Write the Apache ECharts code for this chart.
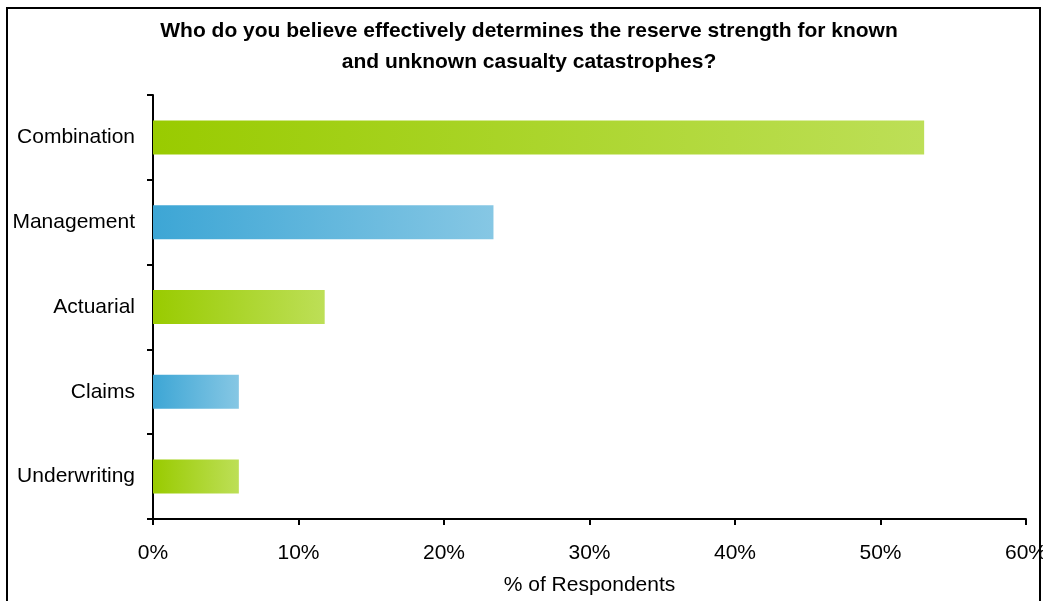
<!DOCTYPE html>
<html><head><meta charset="utf-8">
<script src="https://cdn.jsdelivr.net/npm/echarts@6/dist/echarts.min.js"></script>
<style>html,body{margin:0;padding:0;background:#fff;}#c{width:1043px;height:601px;}</style>
</head><body><div id="c"></div>
<script>
const categories = ['Combination', 'Management', 'Actuarial', 'Claims', 'Underwriting'];
const values = [53, 23.4, 11.8, 5.9, 5.9];
const barKinds = ['green', 'blue', 'green', 'blue', 'green'];
const xTicks = [0, 10, 20, 30, 40, 50, 60];

const grads = {
  green: ['#99CB00', '#BDDF57'],
  blue: ['#3DA6D5', '#86C7E4']
};
function grad(kind) {
  const c = grads[kind];
  return new echarts.graphic.LinearGradient(0, 0, 1, 0, [
    {offset: 0, color: c[0]}, {offset: 1, color: c[1]}
  ]);
}
const chart = echarts.init(document.getElementById('c'));
const cats = categories.slice().reverse();
const kindsRev = barKinds.slice().reverse();
const data = values.slice().reverse().map((v, i) => ({
  value: v,
  itemStyle: {color: grad(kindsRev[i])}
}));
const FONT = 'Liberation Sans, Arial, sans-serif';
chart.setOption({
  animation: false,
  backgroundColor: '#fff',
  textStyle: {fontFamily: FONT},
  graphic: [{
    type: 'rect', shape: {x: 7, y: 8, width: 1033, height: 600},
    style: {fill: 'none', stroke: '#000', lineWidth: 2}, silent: true
  }],
  title: {
    text: 'Who do you believe effectively determines the reserve strength for known\nand unknown casualty catastrophes?',
    left: 524, top: 11, textAlign: 'center',
    textStyle: {fontSize: 21, fontWeight: 'bold', color: '#000', lineHeight: 31, fontFamily: FONT}
  },
  grid: {left: 153, right: 17, top: 95, bottom: 82, containLabel: false, outerBoundsMode: 'none'},
  xAxis: {
    type: 'value', min: xTicks[0], max: xTicks[xTicks.length - 1], interval: 10,
    axisLine: {show: true, lineStyle: {color: '#000', width: 2}},
    axisTick: {show: true, length: 6, lineStyle: {color: '#000', width: 2}},
    axisLabel: {formatter: '{value}%', fontSize: 21, color: '#000', margin: 24},
    splitLine: {show: false},
    name: '% of Respondents', nameLocation: 'middle', nameGap: 56,
    nameTextStyle: {fontSize: 21, color: '#000'}
  },
  yAxis: {
    type: 'category', data: cats,
    axisLine: {show: true, lineStyle: {color: '#000', width: 2}},
    axisTick: {show: true, length: 6, lineStyle: {color: '#000', width: 2}},
    axisLabel: {fontSize: 21, color: '#000', margin: 18},
  },
  series: [{
    type: 'bar', data: data, barWidth: 34
  }]
});
</script></body></html>
